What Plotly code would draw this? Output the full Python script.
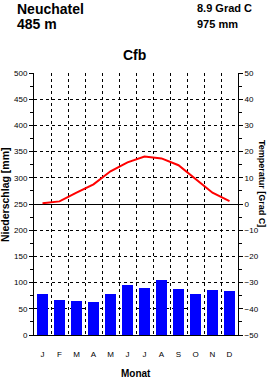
import plotly.graph_objects as go

months = ["J", "F", "M", "A", "M", "J", "J", "A", "S", "O", "N", "D"]
precip = [78, 67, 65, 63, 78, 95, 89, 105, 88, 78, 85, 84]
temp = [0.3, 1.0, 4.3, 7.5, 12.5, 15.9, 18.1, 17.4, 14.8, 9.4, 4.3, 1.1]

station = "Neuchatel"
altitude = "485 m"
mean_temp = "8.9 Grad C"
total_precip = "975 mm"
climate = "Cfb"

xpos = list(range(len(months)))
FONT = "Liberation Sans, Arial, sans-serif"
NARROW = "Liberation Sans Narrow, Arial Narrow, Liberation Sans, sans-serif"

fig = go.Figure()
fig.add_trace(go.Bar(x=xpos, y=precip, marker=dict(color="#0000ff", line=dict(width=0)),
                     width=0.64, yaxis="y", showlegend=False))
fig.add_trace(go.Scatter(x=xpos, y=temp, mode="lines", line=dict(color="#ff0000", width=2),
                         yaxis="y2", showlegend=False))

W, H = 270, 378
L, R, T, B = 34, 32, 73, 43

fig.update_layout(
    width=W, height=H,
    margin=dict(l=L, r=R, t=T, b=B, pad=0),
    paper_bgcolor="white", plot_bgcolor="white",
    font=dict(family=FONT, size=8, color="black"),
    bargap=0,
    xaxis=dict(
        range=[-0.5, 11.5], tickmode="array", tickvals=xpos, ticktext=months,
        showgrid=False, zeroline=False, showline=True, linecolor="black", linewidth=1,
        ticks="outside", ticklen=11, tickcolor="rgba(0,0,0,0)",
        tickfont=dict(size=8, family=FONT),
        minor=dict(tick0=-0.5, dtick=1, showgrid=True, gridcolor="black", griddash="dot",
                   gridwidth=1, ticks=""),
        layer="above traces", fixedrange=True,
    ),
    yaxis=dict(
        range=[0, 500], dtick=50, tick0=0,
        showgrid=True, gridcolor="black", griddash="dot", gridwidth=1,
        zeroline=False, showline=True, linecolor="black", linewidth=1,
        ticks="outside", ticklen=4, tickcolor="black",
        minor=dict(dtick=25, ticks="outside", ticklen=3, tickcolor="black", showgrid=False),
        tickfont=dict(size=8, family=FONT),
        layer="above traces", fixedrange=True,
    ),
    yaxis2=dict(
        range=[-50, 50], dtick=10, tick0=0, overlaying="y", side="right",
        showgrid=False, zeroline=True, zerolinecolor="black", zerolinewidth=1,
        showline=True, linecolor="black", linewidth=1,
        ticks="outside", ticklen=4, tickcolor="black",
        minor=dict(dtick=5, ticks="outside", ticklen=3, tickcolor="black"),
        tickfont=dict(size=8, family=FONT),
        layer="above traces", fixedrange=True,
    ),
)

def ann(text, x, y, size, bold=True, xanchor="left", angle=0, family=FONT):
    fig.add_annotation(text=f"<b>{text}</b>" if bold else text, x=x, y=y,
                       xref="paper", yref="paper", xanchor=xanchor, yanchor="middle",
                       showarrow=False, textangle=angle, borderpad=0,
                       font=dict(size=size, family=family, color="black"))

pw = W - L - R
ph = H - T - B
def px(xp):
    return (xp - L) / pw
def py(yp):
    return (H - B - yp) / ph

ann(station, px(16), py(9), 14)
ann(altitude, px(16), py(24), 14)
ann(mean_temp, px(196), py(8), 11)
ann(total_precip, px(196), py(24), 11)
ann(climate, px(134), py(55), 14, xanchor="center")
ann("Niederschlag [mm]", px(5), py(195), 10.5, xanchor="center", angle=-90)
ann("Temperatur [Grad C]", px(262), py(183), 9, xanchor="center", angle=90, family=NARROW)
ann("Monat", px(136), py(373), 10, xanchor="center")

fig.write_html("out.html")
